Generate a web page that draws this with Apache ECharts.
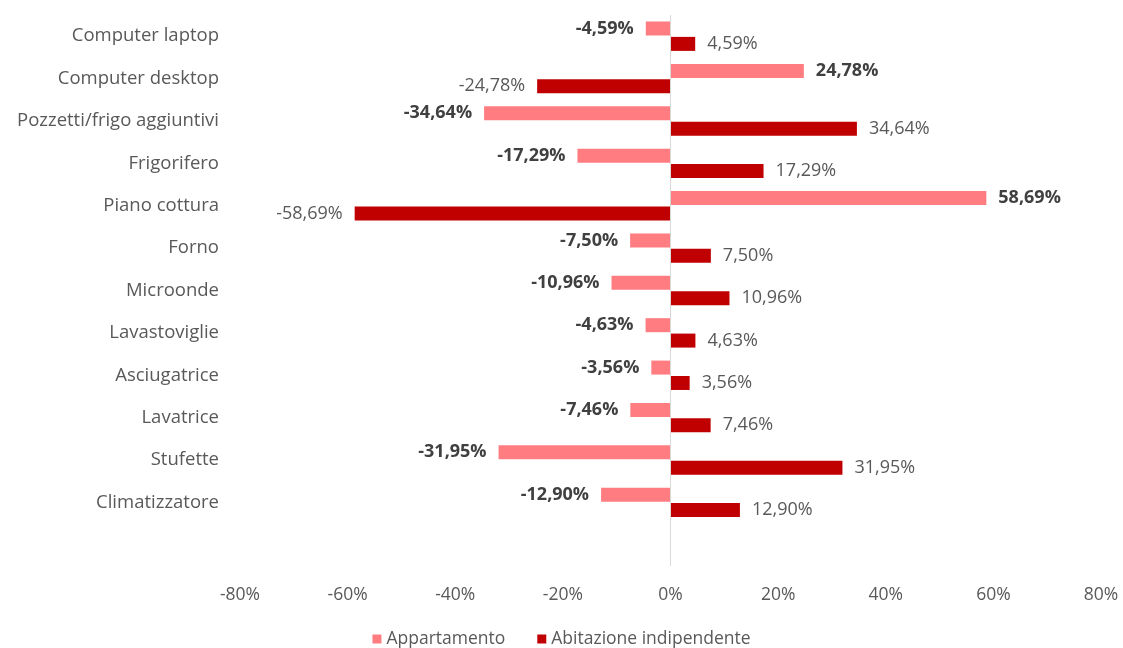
<!DOCTYPE html>
<html>
<head>
<meta charset="utf-8">
<script src="https://cdn.jsdelivr.net/npm/echarts@6/dist/echarts.min.js"></script>
<style>html,body{margin:0;padding:0;background:#fff}#c{width:1123px;height:648px}</style>
</head>
<body>
<div id="c"></div>
<script>
const categories = ['Computer laptop','Computer desktop','Pozzetti/frigo aggiuntivi','Frigorifero','Piano cottura','Forno','Microonde','Lavastoviglie','Asciugatrice','Lavatrice','Stufette','Climatizzatore',''];
const appartamento = [-4.59, 24.78, -34.64, -17.29, 58.69, -7.50, -10.96, -4.63, -3.56, -7.46, -31.95, -12.90, null];
const abitazione = [4.59, -24.78, 34.64, 17.29, -58.69, 7.50, 10.96, 4.63, 3.56, 7.46, 31.95, 12.90, null];
const xTicks = {min: -80, max: 80, interval: 20};

const FONT = 'Open Sans';
function fmt(v){ return v.toFixed(2).replace('.', ',') + '%'; }
function mk(arr){
  return arr.map(v => v === null ? null : {
    value: v,
    label: {position: v < 0 ? 'left' : 'right'}
  });
}
const chart = echarts.init(document.getElementById('c'), null, {renderer:'canvas'});
chart.setOption({
  animation: false,
  textStyle: {fontFamily: FONT},
  grid: {left: 240, right: 22, top: 15, bottom: 82, containLabel: false},
  legend: {
    top: 625, left: 'center', itemWidth: 9, itemHeight: 9, itemGap: 32,
    icon: 'rect',
    textStyle: {fontSize: 17.5, color: '#595959', fontFamily: FONT},
    data: ['Appartamento', 'Abitazione indipendente']
  },
  xAxis: {
    type: 'value', min: xTicks.min, max: xTicks.max, interval: xTicks.interval,
    axisLine: {show: false}, axisTick: {show: false}, splitLine: {show: false},
    axisLabel: {formatter: '{value}%', fontSize: 17.5, color: '#595959', margin: 20, fontFamily: FONT}
  },
  yAxis: {
    type: 'category', data: categories, inverse: true,
    axisLine: {show: false, onZero: false}, axisTick: {show: false},
    axisLabel: {fontSize: 18.5, color: '#595959', margin: 21, fontFamily: FONT}
  },
  series: [
    {
      name: 'Appartamento', type: 'bar', data: mk(appartamento),
      barWidth: 14, barGap: '10%',
      itemStyle: {color: '#FF7C80'},
      label: {show: true, formatter: p => fmt(p.value), fontSize: 18, fontWeight: 'bold', color: '#404040', distance: 12, fontFamily: FONT},
      markLine: {
        silent: true, symbol: 'none', label: {show: false},
        lineStyle: {color: '#d9d9d9', type: 'solid', width: 1},
        data: [{xAxis: 0}]
      }
    },
    {
      name: 'Abitazione indipendente', type: 'bar', data: mk(abitazione),
      barWidth: 14,
      itemStyle: {color: '#C00000'},
      label: {show: true, formatter: p => fmt(p.value), fontSize: 18, color: '#595959', distance: 12, fontFamily: FONT}
    }
  ]
});
</script>
</body>
</html>
